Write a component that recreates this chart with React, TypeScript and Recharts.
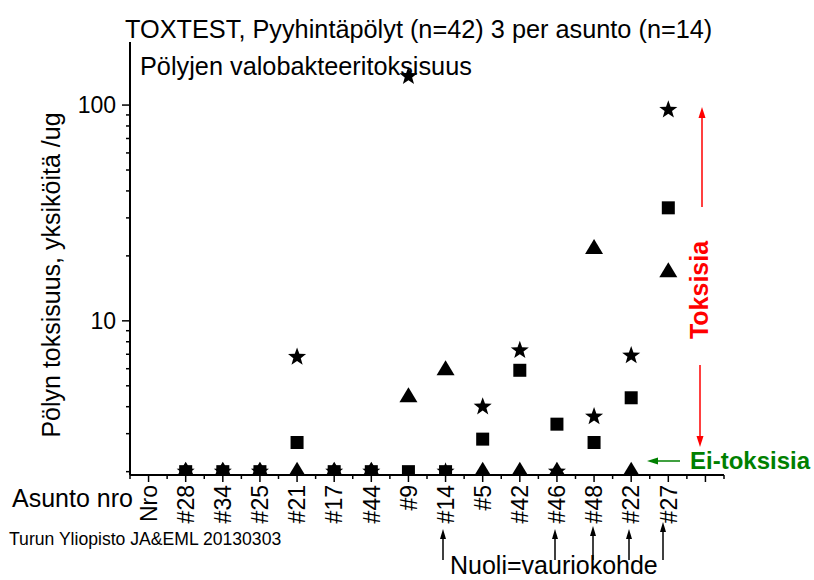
import { ScatterChart, Scatter, XAxis, YAxis } from 'recharts';

const FONT = "'Liberation Sans', Arial, sans-serif";

// Asunnot x-akselilla (viimeinen paikka tyhjä)
const categories = ['Nro', '#28', '#34', '#25', '#21', '#17', '#44', '#9', '#14', '#5', '#42', '#46', '#48', '#22', '#27', ''];

// kolme pyyhintänäytettä per asunto, 2 = alle toteamisrajan
const starValues = [null, 2, 2, 2, 6.8, 2, 2, 136, 2, 4.0, 7.3, 2, 3.6, 6.9, 95];
const squareValues = [null, 2, 2, 2, 2.73, 2, 2, 2, 2, 2.83, 5.9, 3.32, 2.73, 4.4, 33.4];
const triangleValues = [null, 2, 2, 2, 2, 2, 2, 4.43, 5.9, 2, 2, 2, 21.5, 2, 16.8];

const yTicks = [2, 3, 4, 5, 6, 7, 8, 9, 10, 20, 30, 40, 50, 60, 70, 80, 90, 100];
const yLabels = [10, 100];
const xTicks = [-0.5, ...categories.flatMap((_, i) => [i, i + 0.5])];

// asunnot joissa vauriokohde (nuoli)
const damaged = ['#14', '#46', '#48', '#22', '#27'];

const toPoints = (vals: (number | null)[]) =>
  vals
    .map((v, i) => ({ x: i, y: v }))
    .filter((d) => d.y != null);

const StarShape = (p: any) => {
  const { cx, cy } = p;
  const pts: string[] = [];
  for (let k = 0; k < 10; k++) {
    const r = k % 2 === 0 ? 9.5 : 3.9;
    const a = -Math.PI / 2 + (k * Math.PI) / 5;
    pts.push(`${cx + r * Math.cos(a)},${cy + r * Math.sin(a)}`);
  }
  return <polygon points={pts.join(' ')} fill="#000" />;
};

const SquareShape = (p: any) => (
  <rect x={p.cx - 6.5} y={p.cy - 6.5} width={13} height={13} fill="#000" />
);

const TriangleShape = (p: any) => {
  const { cx, cy } = p;
  return <polygon points={`${cx},${cy - 10} ${cx + 9},${cy + 5} ${cx - 9},${cy + 5}`} fill="#000" />;
};

const YTick = ({ x, y, payload }: any) => {
  const v = payload.value;
  const major = yLabels.includes(v);
  return (
    <g>
      <line x1={x - (major ? 8 : 4)} x2={x} y1={y} y2={y} stroke="#000" strokeWidth={1.5} />
      {major && (
        <text x={x - 14} y={y} dy="0.36em" textAnchor="end" fontSize={23} fontFamily={FONT} fill="#000">
          {v}
        </text>
      )}
    </g>
  );
};

const XTick = ({ x, y, payload }: any) => {
  const v = payload.value;
  const major = Number.isInteger(v);
  const label = major ? categories[v] : '';
  return (
    <g>
      <line x1={x} x2={x} y1={y} y2={y + (major ? 7 : 4)} stroke="#000" strokeWidth={1.5} />
      {label && (
        <text
          x={x}
          y={y + 10}
          dy="0.36em"
          textAnchor="end"
          transform={`rotate(-90, ${x}, ${y + 10})`}
          fontSize={23}
          fontFamily={FONT}
          fill="#000"
        >
          {label}
        </text>
      )}
    </g>
  );
};

const Arrow = ({ x1, y1, x2, y2, color, head = 11, half = 3.5, w = 1.5 }: any) => {
  const dx = x2 - x1;
  const dy = y2 - y1;
  const len = Math.hypot(dx, dy);
  const ux = dx / len;
  const uy = dy / len;
  const bx = x2 - ux * head;
  const by = y2 - uy * head;
  return (
    <g>
      <line x1={x1} y1={y1} x2={bx} y2={by} stroke={color} strokeWidth={w} />
      <polygon
        points={`${x2},${y2} ${bx - uy * half},${by + ux * half} ${bx + uy * half},${by - ux * half}`}
        fill={color}
      />
    </g>
  );
};

export default function App() {
  const arrowX: Record<string, number> = { '#14': 443, '#46': 555, '#48': 593, '#22': 629, '#27': 663 };
  const arrowTop: Record<string, number> = { '#14': 529, '#46': 529, '#48': 526, '#22': 529, '#27': 522 };
  return (
    <div style={{ position: 'absolute', left: 0, top: 0, width: 814, height: 580, background: '#fff' }}>
      <ScatterChart width={814} height={580} margin={{ top: 42, right: 90, bottom: 0, left: 0 }}>
        <XAxis
          type="number"
          dataKey="x"
          domain={[-0.5, 15.5]}
          ticks={xTicks}
          interval={0}
          height={105}
          tickSize={0}
          tickMargin={0}
          tickLine={false}
          tick={<XTick />}
          axisLine={{ stroke: '#000', strokeWidth: 2 }}
        />
        <YAxis
          type="number"
          dataKey="y"
          scale="log"
          domain={[1.93, 196]}
          allowDataOverflow
          ticks={yTicks}
          interval={0}
          width={130}
          tickSize={0}
          tickMargin={0}
          tickLine={false}
          tick={<YTick />}
          axisLine={{ stroke: '#000', strokeWidth: 2 }}
        />
        <Scatter data={toPoints(squareValues)} shape={SquareShape} isAnimationActive={false} />
        <Scatter data={toPoints(triangleValues)} shape={TriangleShape} isAnimationActive={false} />
        <Scatter data={toPoints(starValues)} shape={StarShape} isAnimationActive={false} />
      </ScatterChart>
      <svg
        width={814}
        height={580}
        style={{ position: 'absolute', left: 0, top: 0, pointerEvents: 'none' }}
        fontFamily={FONT}
      >
        <text x={125} y={38} fontSize={25.3} fill="#000">
          TOXTEST, Pyyhintäpölyt (n=42) 3 per asunto (n=14)
        </text>
        <text x={140} y={75} fontSize={25.3} fill="#000">
          Pölyjen valobakteeritoksisuus
        </text>
        <text x={60} y={275} fontSize={25} textAnchor="middle" transform="rotate(-90, 60, 275)" fill="#000">
          Pölyn toksisuus, yksiköitä /ug
        </text>
        <text x={12} y={507} fontSize={25} fill="#000">
          Asunto nro
        </text>
        <text x={9} y={545} fontSize={17.6} fill="#000">
          Turun Yliopisto JA&amp;EML 20130303
        </text>
        <text x={450} y={574} fontSize={25} fill="#000">
          Nuoli=vauriokohde
        </text>
        {damaged.map((d) => (
          <Arrow key={d} x1={arrowX[d]} y1={560} x2={arrowX[d]} y2={arrowTop[d]} color="#000" head={10} half={3} />
        ))}
        <text
          x={708}
          y={290}
          fontSize={25}
          fontWeight="bold"
          textAnchor="middle"
          transform="rotate(-90, 708, 290)"
          fill="#ff0000"
        >
          Toksisia
        </text>
        <Arrow x1={702} y1={207} x2={702} y2={107} color="#ff0000" />
        <Arrow x1={700} y1={365} x2={700} y2={447} color="#ff0000" />
        <Arrow x1={680} y1={461} x2={647} y2={461} color="#008000" />
        <text x={690} y={469} fontSize={24} fontWeight="bold" fill="#008000">
          Ei-toksisia
        </text>
      </svg>
    </div>
  );
}
